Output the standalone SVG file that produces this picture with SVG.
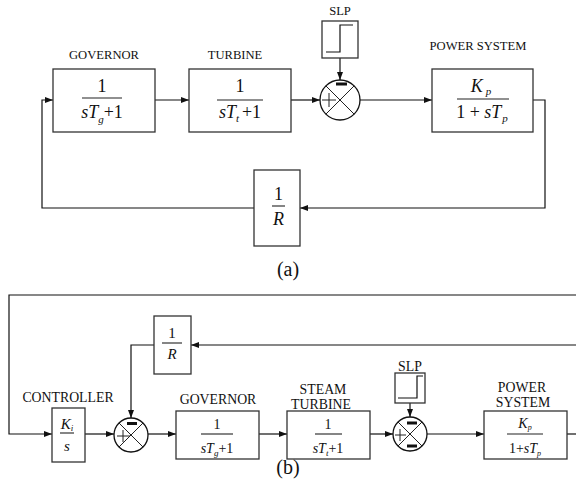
<svg xmlns="http://www.w3.org/2000/svg" width="576" height="486" viewBox="0 0 576 486" font-family="'Liberation Serif', 'Times New Roman', 'DejaVu Serif', serif">
<defs>
<style>
text, tspan{font-family:'Liberation Serif','Times New Roman','DejaVu Serif',serif;}
text{fill:#111;}
.lbl{font-size:12.6px;text-anchor:middle;}
.lblb{font-size:13.8px;text-anchor:middle;}
.fa{font-size:18px;text-anchor:middle;}
.fb{font-size:14px;text-anchor:middle;}
.fc{font-size:15px;text-anchor:middle;}
.it{font-style:italic;}
.cap{font-size:20px;text-anchor:middle;}
.box{fill:#fff;stroke:#333;stroke-width:1.3;}
.ln{fill:none;stroke:#111;stroke-width:1.2;}
.frac{stroke:#222;stroke-width:1.1;}
.sum{fill:#fff;stroke:#111;stroke-width:1.3;}
.x{stroke:#222;stroke-width:1;}
</style>
<marker id="ah" viewBox="0 0 8 6" refX="8" refY="3" markerWidth="8" markerHeight="6" markerUnits="userSpaceOnUse" orient="auto">
<path d="M0,0 L8,3 L0,6 Z" fill="#111"/>
</marker>
</defs>
<rect width="576" height="486" fill="#fff"/>

<g id="connectors">
<path class="ln" d="M155,100 H189" marker-end="url(#ah)"/>
<path class="ln" d="M291,100 H320" marker-end="url(#ah)"/>
<path class="ln" d="M340,58 V80" marker-end="url(#ah)"/>
<path class="ln" d="M360,100 H432" marker-end="url(#ah)"/>
<path class="ln" d="M533,100 H545 V208 H300" marker-end="url(#ah)"/>
<path class="ln" d="M254,208 H42 V100 H53" marker-end="url(#ah)"/>
<path class="ln" d="M576,295 H9 V434 H52" marker-end="url(#ah)"/>
<path class="ln" d="M576,345 H191" marker-end="url(#ah)"/>
<path class="ln" d="M154,345 H131 V418" marker-end="url(#ah)"/>
<path class="ln" d="M85,434 H114" marker-end="url(#ah)"/>
<path class="ln" d="M148,434 H176" marker-end="url(#ah)"/>
<path class="ln" d="M259,434 H287" marker-end="url(#ah)"/>
<path class="ln" d="M370,434 H393" marker-end="url(#ah)"/>
<path class="ln" d="M410,403 V417" marker-end="url(#ah)"/>
<path class="ln" d="M427,434 H484" marker-end="url(#ah)"/>
<path class="ln" d="M567,434 H576"/>
</g>

<g id="a-governor">
<text class="lbl" x="104" y="59">GOVERNOR</text>
<rect class="box" x="53" y="69" width="102" height="63"/>
<text class="fa" x="102" y="92">1</text>
<line class="frac" x1="82" y1="98" x2="122" y2="98"/>
<text class="fa" x="102" y="118"><tspan class="it">sT</tspan><tspan class="it" font-size="11" dy="5">g</tspan><tspan dy="-5">+1</tspan></text>
</g>
<g id="a-turbine">
<text class="lbl" x="235" y="59">TURBINE</text>
<rect class="box" x="189" y="69" width="102" height="63"/>
<text class="fa" x="240" y="92">1</text>
<line class="frac" x1="217" y1="100" x2="263" y2="100"/>
<text class="fa" x="240" y="118"><tspan class="it">sT</tspan><tspan class="it" font-size="11" dy="4">t</tspan><tspan dx="3" dy="-4">+1</tspan></text>
</g>
<g id="a-slp">
<text class="lbl" x="340" y="15">SLP</text>
<rect class="box" x="322" y="21" width="36" height="37"/>
<path class="ln" d="M326,52 H340 V25 H353"/>
</g>
<g id="a-sum">
<circle class="sum" cx="340" cy="100" r="20"/>
<line class="x" x1="325.9" y1="85.9" x2="354.1" y2="114.1"/>
<line class="x" x1="354.1" y1="85.9" x2="325.9" y2="114.1"/>
<rect x="336" y="82.5" width="11" height="3" fill="#111"/>
<path class="x" d="M322,100 H336 M329,93 V107"/>
</g>
<g id="a-power">
<text class="lbl" x="478" y="50">POWER SYSTEM</text>
<rect class="box" x="432" y="69" width="101" height="63"/>
<text class="fa" x="481" y="92"><tspan class="it">K</tspan><tspan class="it" font-size="11" dx="3" dy="3">p</tspan></text>
<line class="frac" x1="457" y1="99" x2="509" y2="99"/>
<text class="fa" x="482" y="118">1 + <tspan class="it">sT</tspan><tspan class="it" font-size="11" dx="1" dy="4">p</tspan></text>
</g>
<g id="a-droop">
<rect class="box" x="254" y="170" width="46" height="76"/>
<text class="fa" x="278.5" y="200">1</text>
<line class="frac" x1="272" y1="206" x2="285" y2="206"/>
<text class="fa it" x="278.5" y="225">R</text>
</g>
<text class="cap" x="288" y="276">(a)</text>

<g id="b-controller">
<text class="lblb" x="68" y="402">CONTROLLER</text>
<rect class="box" x="52" y="408" width="33" height="54"/>
<text class="fc" x="67" y="429"><tspan class="it">K</tspan><tspan class="it" font-size="9" dy="2">i</tspan></text>
<line class="frac" x1="60" y1="433" x2="74" y2="433"/>
<text class="fc it" x="67" y="451">s</text>
</g>
<g id="b-droop">
<rect class="box" x="154" y="316" width="37" height="58"/>
<text class="fc" x="172" y="338">1</text>
<line class="frac" x1="162" y1="343" x2="182" y2="343"/>
<text class="fc it" x="172" y="359">R</text>
</g>
<g id="b-sum1">
<circle class="sum" cx="131" cy="435" r="17"/>
<line class="x" x1="119" y1="423" x2="143" y2="447"/>
<line class="x" x1="143" y1="423" x2="119" y2="447"/>
<rect x="127" y="422" width="10" height="3" fill="#111"/>
<path class="x" d="M117,436 H130 M123,430 V442"/>
</g>
<g id="b-governor">
<text class="lblb" x="218" y="404">GOVERNOR</text>
<rect class="box" x="176" y="411" width="83" height="48"/>
<text class="fb" x="217" y="429">1</text>
<line class="frac" x1="201" y1="434" x2="233" y2="434"/>
<text class="fb" x="217" y="453"><tspan class="it">sT</tspan><tspan class="it" font-size="9" dy="3">g</tspan><tspan dy="-3">+1</tspan></text>
</g>
<g id="b-turbine">
<text class="lblb" x="323" y="394">STEAM</text>
<text class="lblb" x="321" y="409">TURBINE</text>
<rect class="box" x="287" y="411" width="83" height="48"/>
<text class="fb" x="328" y="429">1</text>
<line class="frac" x1="315" y1="434" x2="342" y2="434"/>
<text class="fb" x="328" y="453"><tspan class="it">sT</tspan><tspan class="it" font-size="9" dy="3">t</tspan><tspan dy="-3">+1</tspan></text>
</g>
<g id="b-slp">
<text class="lblb" x="410" y="371">SLP</text>
<rect class="box" x="395" y="373" width="30" height="30"/>
<path class="ln" d="M398,398 H417 V376 H423"/>
</g>
<g id="b-sum2">
<circle class="sum" cx="410" cy="434" r="17"/>
<line class="x" x1="398" y1="422" x2="422" y2="446"/>
<line class="x" x1="422" y1="422" x2="398" y2="446"/>
<rect x="407" y="421.5" width="10" height="3" fill="#111"/>
<rect x="407" y="444.5" width="10" height="3" fill="#111"/>
<path class="x" d="M395,435 H406 M400,429 V441"/>
</g>
<g id="b-power">
<text class="lblb" x="522" y="392">POWER</text>
<text class="lblb" x="523" y="407">SYSTEM</text>
<rect class="box" x="484" y="411" width="83" height="48"/>
<text class="fb" x="525" y="428"><tspan class="it">K</tspan><tspan class="it" font-size="8" dy="2">p</tspan></text>
<line class="frac" x1="507" y1="434" x2="543" y2="434"/>
<text class="fb" x="525" y="453">1+<tspan class="it">sT</tspan><tspan class="it" font-size="8" dy="3">p</tspan></text>
</g>
<text class="cap" x="288" y="474">(b)</text>
</svg>
